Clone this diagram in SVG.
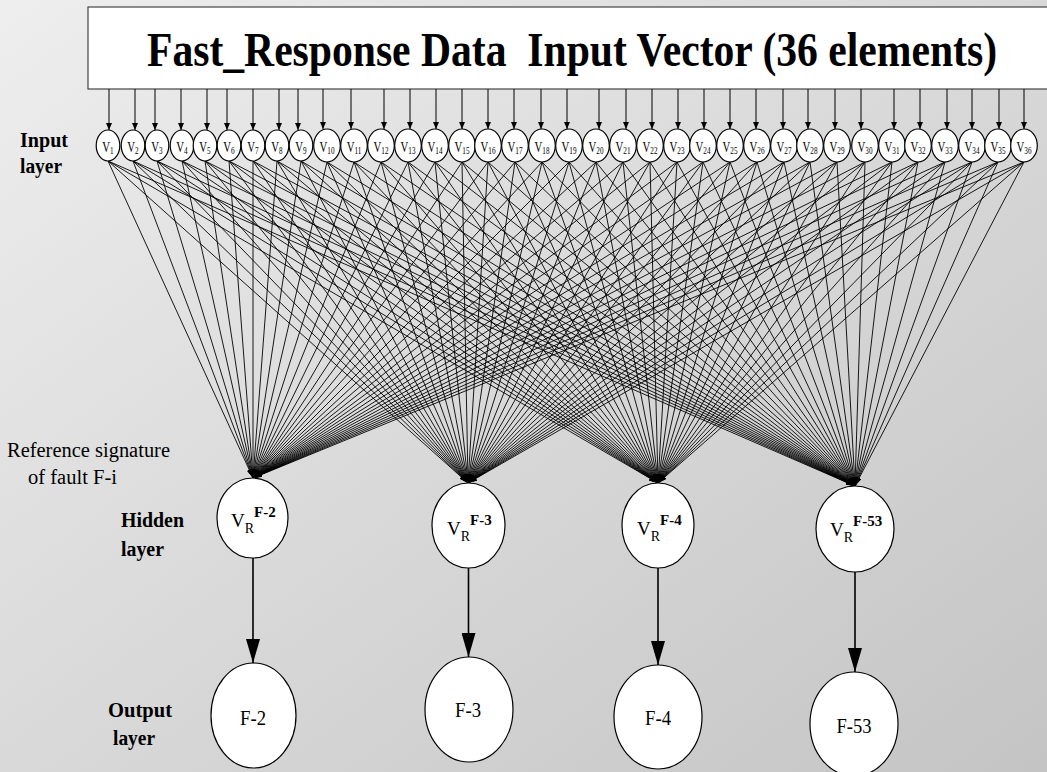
<svg xmlns="http://www.w3.org/2000/svg" width="1047" height="772" viewBox="0 0 1047 772" font-family="'Liberation Serif', 'Times New Roman', serif">
  <defs>
    <linearGradient id="bg" x1="0" y1="0" x2="1" y2="1">
      <stop offset="0" stop-color="#eeeeee"/>
      <stop offset="1" stop-color="#c4c4c4"/>
    </linearGradient>
    <marker id="tip-s" markerUnits="userSpaceOnUse" markerWidth="7" markerHeight="6" refX="7" refY="3" orient="auto">
      <path d="M0,0 L7,3 L0,6 z" fill="#000"/>
    </marker>
    <marker id="tip-f" markerUnits="userSpaceOnUse" markerWidth="9" markerHeight="5" refX="9" refY="2.5" orient="auto">
      <path d="M0,0 L9,2.5 L0,5 z" fill="#000"/>
    </marker>
    <marker id="tip-l" markerUnits="userSpaceOnUse" markerWidth="24" markerHeight="14" refX="24" refY="7" orient="auto">
      <path d="M0,0 L24,7 L0,14 z" fill="#000"/>
    </marker>
  </defs>
  <style>
    text { font-family: "Liberation Serif", "Times New Roman", serif; fill: #000; }
    .bold { font-weight: bold; }
    .node { fill: #fff; stroke: #000; stroke-width: 1.2; }
    .feed { fill: none; stroke: #000; stroke-width: 1; marker-end: url(#tip-s); }
    .fan { fill: none; stroke: #000; stroke-width: 0.9; marker-end: url(#tip-f); }
    .out { fill: none; stroke: #000; stroke-width: 1.6; marker-end: url(#tip-l); }
    .vin { font-size: 15px; }
    .sub { font-size: 10px; }
  </style>

  <rect x="0" y="0" width="1047" height="772" fill="url(#bg)"/>

  <!-- input vector box -->
  <g id="input-vector">
    <rect x="88" y="7" width="965" height="82" fill="#fff" stroke="#444" stroke-width="1.2"/>
    <text class="bold" x="147" y="66" font-size="48" textLength="850" lengthAdjust="spacingAndGlyphs" xml:space="preserve">Fast_Response Data  Input Vector (36 elements)</text>
  </g>

  <!-- side labels -->
  <g id="labels">
    <text class="bold" x="20" y="147" font-size="20" textLength="48" lengthAdjust="spacingAndGlyphs">Input</text>
    <text class="bold" x="20" y="173" font-size="20" textLength="42" lengthAdjust="spacingAndGlyphs">layer</text>
    <text x="7" y="457" font-size="20.5" textLength="163" lengthAdjust="spacingAndGlyphs">Reference signature</text>
    <text x="28" y="484" font-size="20.5" textLength="89" lengthAdjust="spacingAndGlyphs">of fault F-i</text>
    <text class="bold" x="121" y="527" font-size="20" textLength="63" lengthAdjust="spacingAndGlyphs">Hidden</text>
    <text class="bold" x="121" y="556" font-size="20" textLength="43" lengthAdjust="spacingAndGlyphs">layer</text>
    <text class="bold" x="108" y="717" font-size="20" textLength="64" lengthAdjust="spacingAndGlyphs">Output</text>
    <text class="bold" x="113" y="745" font-size="20" textLength="42" lengthAdjust="spacingAndGlyphs">layer</text>
  </g>

  <!-- connectors -->
  <g id="connectors">
    <!-- vector box to input nodes -->
    <g id="feeds">
      <path class="feed" d="M109 89V130"/><path class="feed" d="M135 89V130"/><path class="feed" d="M155 89V130"/>
      <path class="feed" d="M181 89V130"/><path class="feed" d="M207 89V130"/><path class="feed" d="M227 89V130"/>
      <path class="feed" d="M253 89V130"/><path class="feed" d="M279 89V130"/><path class="feed" d="M298 89V130"/>
      <path class="feed" d="M323 89V129"/><path class="feed" d="M351 89V129"/><path class="feed" d="M384 89V129"/>
      <path class="feed" d="M410 89V129"/><path class="feed" d="M436 89V129"/><path class="feed" d="M462 89V129"/>
      <path class="feed" d="M488 89V129"/><path class="feed" d="M514 89V129"/><path class="feed" d="M541 89V129"/>
      <path class="feed" d="M567 89V129"/><path class="feed" d="M599 89V129"/><path class="feed" d="M626 89V129"/>
      <path class="feed" d="M652 89V129"/><path class="feed" d="M678 89V129"/><path class="feed" d="M704 89V129"/>
      <path class="feed" d="M730 89V129"/><path class="feed" d="M756 89V129"/><path class="feed" d="M783 89V129"/>
      <path class="feed" d="M808 89V129"/><path class="feed" d="M835 89V129"/><path class="feed" d="M861 89V129"/>
      <path class="feed" d="M894 89V129"/><path class="feed" d="M920 89V129"/><path class="feed" d="M947 89V129"/>
      <path class="feed" d="M972 89V129"/><path class="feed" d="M999 89V129"/><path class="feed" d="M1024 89V129"/>
    </g>
    <!-- input nodes to hidden nodes (full fan-in) -->
    <g id="fan-f2">
      <path class="fan" d="M108 161L253 478"/><path class="fan" d="M133 161L253 478"/><path class="fan" d="M157 161L253 478"/>
      <path class="fan" d="M182 161L253 478"/><path class="fan" d="M205 161L253 478"/><path class="fan" d="M229 161L253 478"/>
      <path class="fan" d="M253 161L253 478"/><path class="fan" d="M277 161L253 478"/><path class="fan" d="M301 161L253 478"/>
      <path class="fan" d="M327 162L253 478"/><path class="fan" d="M354 162L253 478"/><path class="fan" d="M381 162L253 478"/>
      <path class="fan" d="M408 162L253 478"/><path class="fan" d="M435 162L253 478"/><path class="fan" d="M462 162L253 478"/>
      <path class="fan" d="M488 162L253 478"/><path class="fan" d="M515 162L253 478"/><path class="fan" d="M542 162L253 478"/>
      <path class="fan" d="M569 162L253 478"/><path class="fan" d="M596 162L253 478"/><path class="fan" d="M623 162L253 478"/>
      <path class="fan" d="M650 162L253 478"/><path class="fan" d="M677 162L253 478"/><path class="fan" d="M703 162L253 478"/>
      <path class="fan" d="M730 162L253 478"/><path class="fan" d="M757 162L253 478"/><path class="fan" d="M784 162L253 478"/>
      <path class="fan" d="M810 162L253 478"/><path class="fan" d="M837 162L253 478"/><path class="fan" d="M865 162L253 478"/>
      <path class="fan" d="M892 162L253 478"/><path class="fan" d="M918 162L253 478"/><path class="fan" d="M945 162L253 478"/>
      <path class="fan" d="M972 162L253 478"/><path class="fan" d="M998 162L253 478"/><path class="fan" d="M1024 162L253 478"/>
    </g>
    <g id="fan-f3">
      <path class="fan" d="M108 161L468 483"/><path class="fan" d="M133 161L468 483"/><path class="fan" d="M157 161L468 483"/>
      <path class="fan" d="M182 161L468 483"/><path class="fan" d="M205 161L468 483"/><path class="fan" d="M229 161L468 483"/>
      <path class="fan" d="M253 161L468 483"/><path class="fan" d="M277 161L468 483"/><path class="fan" d="M301 161L468 483"/>
      <path class="fan" d="M327 162L468 483"/><path class="fan" d="M354 162L468 483"/><path class="fan" d="M381 162L468 483"/>
      <path class="fan" d="M408 162L468 483"/><path class="fan" d="M435 162L468 483"/><path class="fan" d="M462 162L468 483"/>
      <path class="fan" d="M488 162L468 483"/><path class="fan" d="M515 162L468 483"/><path class="fan" d="M542 162L468 483"/>
      <path class="fan" d="M569 162L468 483"/><path class="fan" d="M596 162L468 483"/><path class="fan" d="M623 162L468 483"/>
      <path class="fan" d="M650 162L468 483"/><path class="fan" d="M677 162L468 483"/><path class="fan" d="M703 162L468 483"/>
      <path class="fan" d="M730 162L468 483"/><path class="fan" d="M757 162L468 483"/><path class="fan" d="M784 162L468 483"/>
      <path class="fan" d="M810 162L468 483"/><path class="fan" d="M837 162L468 483"/><path class="fan" d="M865 162L468 483"/>
      <path class="fan" d="M892 162L468 483"/><path class="fan" d="M918 162L468 483"/><path class="fan" d="M945 162L468 483"/>
      <path class="fan" d="M972 162L468 483"/><path class="fan" d="M998 162L468 483"/><path class="fan" d="M1024 162L468 483"/>
    </g>
    <g id="fan-f4">
      <path class="fan" d="M108 161L658 483"/><path class="fan" d="M133 161L658 483"/><path class="fan" d="M157 161L658 483"/>
      <path class="fan" d="M182 161L658 483"/><path class="fan" d="M205 161L658 483"/><path class="fan" d="M229 161L658 483"/>
      <path class="fan" d="M253 161L658 483"/><path class="fan" d="M277 161L658 483"/><path class="fan" d="M301 161L658 483"/>
      <path class="fan" d="M327 162L658 483"/><path class="fan" d="M354 162L658 483"/><path class="fan" d="M381 162L658 483"/>
      <path class="fan" d="M408 162L658 483"/><path class="fan" d="M435 162L658 483"/><path class="fan" d="M462 162L658 483"/>
      <path class="fan" d="M488 162L658 483"/><path class="fan" d="M515 162L658 483"/><path class="fan" d="M542 162L658 483"/>
      <path class="fan" d="M569 162L658 483"/><path class="fan" d="M596 162L658 483"/><path class="fan" d="M623 162L658 483"/>
      <path class="fan" d="M650 162L658 483"/><path class="fan" d="M677 162L658 483"/><path class="fan" d="M703 162L658 483"/>
      <path class="fan" d="M730 162L658 483"/><path class="fan" d="M757 162L658 483"/><path class="fan" d="M784 162L658 483"/>
      <path class="fan" d="M810 162L658 483"/><path class="fan" d="M837 162L658 483"/><path class="fan" d="M865 162L658 483"/>
      <path class="fan" d="M892 162L658 483"/><path class="fan" d="M918 162L658 483"/><path class="fan" d="M945 162L658 483"/>
      <path class="fan" d="M972 162L658 483"/><path class="fan" d="M998 162L658 483"/><path class="fan" d="M1024 162L658 483"/>
    </g>
    <g id="fan-f53">
      <path class="fan" d="M108 161L855 486"/><path class="fan" d="M133 161L855 486"/><path class="fan" d="M157 161L855 486"/>
      <path class="fan" d="M182 161L855 486"/><path class="fan" d="M205 161L855 486"/><path class="fan" d="M229 161L855 486"/>
      <path class="fan" d="M253 161L855 486"/><path class="fan" d="M277 161L855 486"/><path class="fan" d="M301 161L855 486"/>
      <path class="fan" d="M327 162L855 486"/><path class="fan" d="M354 162L855 486"/><path class="fan" d="M381 162L855 486"/>
      <path class="fan" d="M408 162L855 486"/><path class="fan" d="M435 162L855 486"/><path class="fan" d="M462 162L855 486"/>
      <path class="fan" d="M488 162L855 486"/><path class="fan" d="M515 162L855 486"/><path class="fan" d="M542 162L855 486"/>
      <path class="fan" d="M569 162L855 486"/><path class="fan" d="M596 162L855 486"/><path class="fan" d="M623 162L855 486"/>
      <path class="fan" d="M650 162L855 486"/><path class="fan" d="M677 162L855 486"/><path class="fan" d="M703 162L855 486"/>
      <path class="fan" d="M730 162L855 486"/><path class="fan" d="M757 162L855 486"/><path class="fan" d="M784 162L855 486"/>
      <path class="fan" d="M810 162L855 486"/><path class="fan" d="M837 162L855 486"/><path class="fan" d="M865 162L855 486"/>
      <path class="fan" d="M892 162L855 486"/><path class="fan" d="M918 162L855 486"/><path class="fan" d="M945 162L855 486"/>
      <path class="fan" d="M972 162L855 486"/><path class="fan" d="M998 162L855 486"/><path class="fan" d="M1024 162L855 486"/>
    </g>
    <!-- hidden nodes to output nodes -->
    <g id="outputs">
      <path class="out" d="M253 558V663"/>
      <path class="out" d="M468.5 568V657"/>
      <path class="out" d="M658 568V665"/>
      <path class="out" d="M855 572V672"/>
    </g>
  </g>

  <!-- input layer nodes -->
  <g id="v1"><ellipse class="node" cx="108" cy="145.5" rx="11.8" ry="15.5"/><text class="vin" transform="translate(108 151.5) scale(0.72 1)" text-anchor="middle">V<tspan class="sub" dy="2">1</tspan></text></g>
  <g id="v2"><ellipse class="node" cx="133" cy="145.5" rx="11.8" ry="15.5"/><text class="vin" transform="translate(133 151.5) scale(0.72 1)" text-anchor="middle">V<tspan class="sub" dy="2">2</tspan></text></g>
  <g id="v3"><ellipse class="node" cx="157" cy="145.5" rx="11.8" ry="15.5"/><text class="vin" transform="translate(157 151.5) scale(0.72 1)" text-anchor="middle">V<tspan class="sub" dy="2">3</tspan></text></g>
  <g id="v4"><ellipse class="node" cx="182" cy="145.5" rx="11.8" ry="15.5"/><text class="vin" transform="translate(182 151.5) scale(0.72 1)" text-anchor="middle">V<tspan class="sub" dy="2">4</tspan></text></g>
  <g id="v5"><ellipse class="node" cx="205" cy="145.5" rx="11.8" ry="15.5"/><text class="vin" transform="translate(205 151.5) scale(0.72 1)" text-anchor="middle">V<tspan class="sub" dy="2">5</tspan></text></g>
  <g id="v6"><ellipse class="node" cx="229" cy="145.5" rx="11.8" ry="15.5"/><text class="vin" transform="translate(229 151.5) scale(0.72 1)" text-anchor="middle">V<tspan class="sub" dy="2">6</tspan></text></g>
  <g id="v7"><ellipse class="node" cx="253" cy="145.5" rx="11.8" ry="15.5"/><text class="vin" transform="translate(253 151.5) scale(0.72 1)" text-anchor="middle">V<tspan class="sub" dy="2">7</tspan></text></g>
  <g id="v8"><ellipse class="node" cx="277" cy="145.5" rx="11.8" ry="15.5"/><text class="vin" transform="translate(277 151.5) scale(0.72 1)" text-anchor="middle">V<tspan class="sub" dy="2">8</tspan></text></g>
  <g id="v9"><ellipse class="node" cx="301" cy="145.5" rx="11.8" ry="15.5"/><text class="vin" transform="translate(301 151.5) scale(0.72 1)" text-anchor="middle">V<tspan class="sub" dy="2">9</tspan></text></g>
  <g id="v10"><ellipse class="node" cx="327" cy="145.5" rx="13.3" ry="16.5"/><text class="vin" transform="translate(327 151.5) scale(0.72 1)" text-anchor="middle">V<tspan class="sub" dy="2">10</tspan></text></g>
  <g id="v11"><ellipse class="node" cx="354" cy="145.5" rx="13.3" ry="16.5"/><text class="vin" transform="translate(354 151.5) scale(0.72 1)" text-anchor="middle">V<tspan class="sub" dy="2">11</tspan></text></g>
  <g id="v12"><ellipse class="node" cx="381" cy="145.5" rx="13.3" ry="16.5"/><text class="vin" transform="translate(381 151.5) scale(0.72 1)" text-anchor="middle">V<tspan class="sub" dy="2">12</tspan></text></g>
  <g id="v13"><ellipse class="node" cx="408" cy="145.5" rx="13.3" ry="16.5"/><text class="vin" transform="translate(408 151.5) scale(0.72 1)" text-anchor="middle">V<tspan class="sub" dy="2">13</tspan></text></g>
  <g id="v14"><ellipse class="node" cx="435" cy="145.5" rx="13.3" ry="16.5"/><text class="vin" transform="translate(435 151.5) scale(0.72 1)" text-anchor="middle">V<tspan class="sub" dy="2">14</tspan></text></g>
  <g id="v15"><ellipse class="node" cx="462" cy="145.5" rx="13.3" ry="16.5"/><text class="vin" transform="translate(462 151.5) scale(0.72 1)" text-anchor="middle">V<tspan class="sub" dy="2">15</tspan></text></g>
  <g id="v16"><ellipse class="node" cx="488" cy="145.5" rx="13.3" ry="16.5"/><text class="vin" transform="translate(488 151.5) scale(0.72 1)" text-anchor="middle">V<tspan class="sub" dy="2">16</tspan></text></g>
  <g id="v17"><ellipse class="node" cx="515" cy="145.5" rx="13.3" ry="16.5"/><text class="vin" transform="translate(515 151.5) scale(0.72 1)" text-anchor="middle">V<tspan class="sub" dy="2">17</tspan></text></g>
  <g id="v18"><ellipse class="node" cx="542" cy="145.5" rx="13.3" ry="16.5"/><text class="vin" transform="translate(542 151.5) scale(0.72 1)" text-anchor="middle">V<tspan class="sub" dy="2">18</tspan></text></g>
  <g id="v19"><ellipse class="node" cx="569" cy="145.5" rx="13.3" ry="16.5"/><text class="vin" transform="translate(569 151.5) scale(0.72 1)" text-anchor="middle">V<tspan class="sub" dy="2">19</tspan></text></g>
  <g id="v20"><ellipse class="node" cx="596" cy="145.5" rx="13.3" ry="16.5"/><text class="vin" transform="translate(596 151.5) scale(0.72 1)" text-anchor="middle">V<tspan class="sub" dy="2">20</tspan></text></g>
  <g id="v21"><ellipse class="node" cx="623" cy="145.5" rx="13.3" ry="16.5"/><text class="vin" transform="translate(623 151.5) scale(0.72 1)" text-anchor="middle">V<tspan class="sub" dy="2">21</tspan></text></g>
  <g id="v22"><ellipse class="node" cx="650" cy="145.5" rx="13.3" ry="16.5"/><text class="vin" transform="translate(650 151.5) scale(0.72 1)" text-anchor="middle">V<tspan class="sub" dy="2">22</tspan></text></g>
  <g id="v23"><ellipse class="node" cx="677" cy="145.5" rx="13.3" ry="16.5"/><text class="vin" transform="translate(677 151.5) scale(0.72 1)" text-anchor="middle">V<tspan class="sub" dy="2">23</tspan></text></g>
  <g id="v24"><ellipse class="node" cx="703" cy="145.5" rx="13.3" ry="16.5"/><text class="vin" transform="translate(703 151.5) scale(0.72 1)" text-anchor="middle">V<tspan class="sub" dy="2">24</tspan></text></g>
  <g id="v25"><ellipse class="node" cx="730" cy="145.5" rx="13.3" ry="16.5"/><text class="vin" transform="translate(730 151.5) scale(0.72 1)" text-anchor="middle">V<tspan class="sub" dy="2">25</tspan></text></g>
  <g id="v26"><ellipse class="node" cx="757" cy="145.5" rx="13.3" ry="16.5"/><text class="vin" transform="translate(757 151.5) scale(0.72 1)" text-anchor="middle">V<tspan class="sub" dy="2">26</tspan></text></g>
  <g id="v27"><ellipse class="node" cx="784" cy="145.5" rx="13.3" ry="16.5"/><text class="vin" transform="translate(784 151.5) scale(0.72 1)" text-anchor="middle">V<tspan class="sub" dy="2">27</tspan></text></g>
  <g id="v28"><ellipse class="node" cx="810" cy="145.5" rx="13.3" ry="16.5"/><text class="vin" transform="translate(810 151.5) scale(0.72 1)" text-anchor="middle">V<tspan class="sub" dy="2">28</tspan></text></g>
  <g id="v29"><ellipse class="node" cx="837" cy="145.5" rx="13.3" ry="16.5"/><text class="vin" transform="translate(837 151.5) scale(0.72 1)" text-anchor="middle">V<tspan class="sub" dy="2">29</tspan></text></g>
  <g id="v30"><ellipse class="node" cx="865" cy="145.5" rx="13.3" ry="16.5"/><text class="vin" transform="translate(865 151.5) scale(0.72 1)" text-anchor="middle">V<tspan class="sub" dy="2">30</tspan></text></g>
  <g id="v31"><ellipse class="node" cx="892" cy="145.5" rx="13.3" ry="16.5"/><text class="vin" transform="translate(892 151.5) scale(0.72 1)" text-anchor="middle">V<tspan class="sub" dy="2">31</tspan></text></g>
  <g id="v32"><ellipse class="node" cx="918" cy="145.5" rx="13.3" ry="16.5"/><text class="vin" transform="translate(918 151.5) scale(0.72 1)" text-anchor="middle">V<tspan class="sub" dy="2">32</tspan></text></g>
  <g id="v33"><ellipse class="node" cx="945" cy="145.5" rx="13.3" ry="16.5"/><text class="vin" transform="translate(945 151.5) scale(0.72 1)" text-anchor="middle">V<tspan class="sub" dy="2">33</tspan></text></g>
  <g id="v34"><ellipse class="node" cx="972" cy="145.5" rx="13.3" ry="16.5"/><text class="vin" transform="translate(972 151.5) scale(0.72 1)" text-anchor="middle">V<tspan class="sub" dy="2">34</tspan></text></g>
  <g id="v35"><ellipse class="node" cx="998" cy="145.5" rx="13.3" ry="16.5"/><text class="vin" transform="translate(998 151.5) scale(0.72 1)" text-anchor="middle">V<tspan class="sub" dy="2">35</tspan></text></g>
  <g id="v36"><ellipse class="node" cx="1024" cy="145.5" rx="13.3" ry="16.5"/><text class="vin" transform="translate(1024 151.5) scale(0.72 1)" text-anchor="middle">V<tspan class="sub" dy="2">36</tspan></text></g>

  <!-- hidden layer: reference signatures -->
  <g id="h-f2"><ellipse class="node" cx="252.5" cy="518" rx="35.5" ry="40"/><text x="231" y="527" font-size="19">V<tspan font-size="14" dy="6">R</tspan><tspan class="bold" font-size="15" dy="-16">F-2</tspan></text></g>
  <g id="h-f3"><ellipse class="node" cx="468.5" cy="525.5" rx="36.5" ry="42.5"/><text x="447" y="535" font-size="19">V<tspan font-size="14" dy="6">R</tspan><tspan class="bold" font-size="15" dy="-16">F-3</tspan></text></g>
  <g id="h-f4"><ellipse class="node" cx="658" cy="525.5" rx="36" ry="42.5"/><text x="637" y="535" font-size="19">V<tspan font-size="14" dy="6">R</tspan><tspan class="bold" font-size="15" dy="-16">F-4</tspan></text></g>
  <g id="h-f53"><ellipse class="node" cx="855" cy="529" rx="39" ry="43"/><text x="830" y="536" font-size="19">V<tspan font-size="14" dy="6">R</tspan><tspan class="bold" font-size="15" dy="-16">F-53</tspan></text></g>

  <!-- output layer -->
  <g id="o-f2"><ellipse class="node" cx="253.5" cy="715.5" rx="42.5" ry="52.5"/><text x="253" y="725" font-size="22" text-anchor="middle" textLength="26" lengthAdjust="spacingAndGlyphs">F-2</text></g>
  <g id="o-f3"><ellipse class="node" cx="469" cy="709.5" rx="44" ry="52.5"/><text x="468" y="717" font-size="22" text-anchor="middle" textLength="26" lengthAdjust="spacingAndGlyphs">F-3</text></g>
  <g id="o-f4"><ellipse class="node" cx="658" cy="717" rx="44" ry="52"/><text x="658" y="725" font-size="22" text-anchor="middle" textLength="26" lengthAdjust="spacingAndGlyphs">F-4</text></g>
  <g id="o-f53"><ellipse class="node" cx="854" cy="724" rx="44" ry="52"/><text x="854" y="733" font-size="22" text-anchor="middle" textLength="35" lengthAdjust="spacingAndGlyphs">F-53</text></g>
</svg>
